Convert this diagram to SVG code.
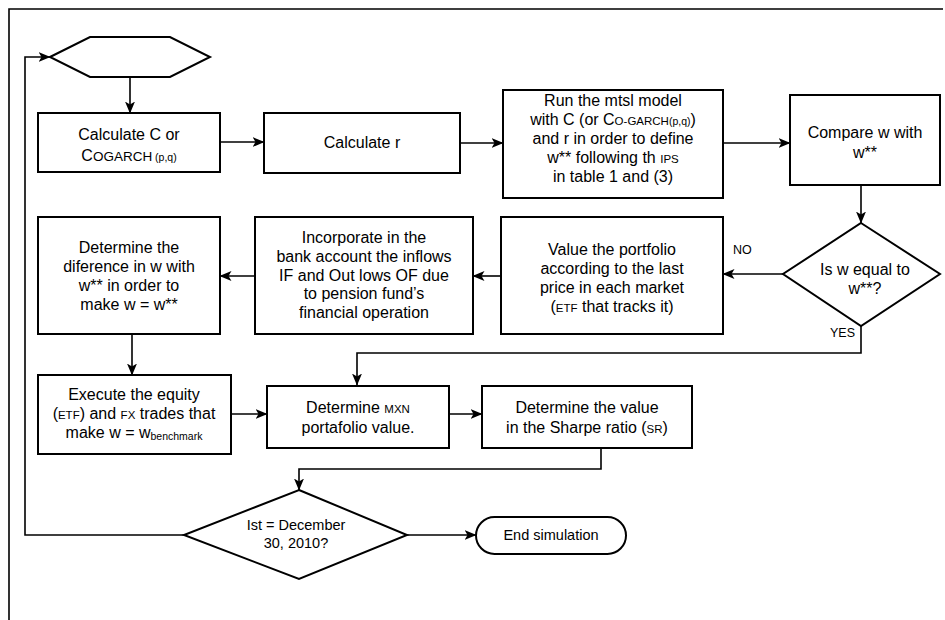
<svg xmlns="http://www.w3.org/2000/svg" width="945" height="620" viewBox="0 0 945 620">
<defs>
<marker id="ah" viewBox="0 0 12 10" refX="11.5" refY="5" markerWidth="12" markerHeight="10" markerUnits="userSpaceOnUse" orient="auto">
<path d="M0,0 L12,5 L0,10 L3,5 z" fill="#000"/>
</marker>
<style>
.box{fill:#fff;stroke:#000;stroke-width:2}
.ln{fill:none;stroke:#000;stroke-width:1.6}
.t{font-family:"Liberation Sans",Arial,sans-serif;font-size:16px;fill:#000;text-anchor:middle}
.s{font-size:14.5px}
.sc{font-size:11.5px}
.sm{font-size:10.5px}
.lb{font-family:"Liberation Sans",Arial,sans-serif;font-size:12.5px;fill:#000}
</style>
</defs>
<rect width="945" height="620" fill="#fff"/>
<path d="M943,9 H9 V620" fill="none" stroke="#000" stroke-width="1.6"/>

<g id="connectors">
<path class="ln" d="M130,77 V113" marker-end="url(#ah)"/>
<path class="ln" d="M220,142 H264" marker-end="url(#ah)"/>
<path class="ln" d="M460,143 H503" marker-end="url(#ah)"/>
<path class="ln" d="M723,143 H790" marker-end="url(#ah)"/>
<path class="ln" d="M861,185 V223" marker-end="url(#ah)"/>
<path class="ln" d="M783,274 H723" marker-end="url(#ah)"/>
<path class="ln" d="M501,276 H473" marker-end="url(#ah)"/>
<path class="ln" d="M255,276 H220" marker-end="url(#ah)"/>
<path class="ln" d="M132,334 V375" marker-end="url(#ah)"/>
<path class="ln" d="M861,326 V353 H357 V385" marker-end="url(#ah)"/>
<path class="ln" d="M231,414 H267" marker-end="url(#ah)"/>
<path class="ln" d="M449,414 H482" marker-end="url(#ah)"/>
<path class="ln" d="M601,448 V469 H299 V490" marker-end="url(#ah)"/>
<path class="ln" d="M407,535 H476" marker-end="url(#ah)"/>
<path class="ln" d="M184,535 H25 V57 H50" marker-end="url(#ah)"/>
<text class="lb" x="733" y="254">NO</text>
<text class="lb" x="830" y="337">YES</text>
</g>

<g id="start">
<polygon class="box" points="50,57 90,37 170,37 210,57 170,77 90,77"/>
</g>

<g id="calcC">
<rect class="box" x="38" y="113" width="182" height="59"/>
<text class="t" x="129" y="140">Calculate C or</text>
<text class="t" x="129" y="161">C<tspan font-size="13.5px">OGARCH</tspan><tspan class="sm"> (p,q)</tspan></text>
</g>

<g id="calcR">
<rect class="box" x="264" y="113" width="196" height="60"/>
<text class="t" x="362" y="148">Calculate r</text>
</g>

<g id="runModel">
<rect class="box" x="503" y="90" width="220" height="108"/>
<text class="t" x="613" y="106">Run the mtsl model</text>
<text class="t" x="613" y="125">with C (or C<tspan class="sc">O-GARCH</tspan><tspan class="sm">(p,q)</tspan>)</text>
<text class="t" x="613" y="144">and r in order to define</text>
<text class="t" x="613" y="163">w** following th <tspan class="sc">IPS</tspan></text>
<text class="t" x="613" y="182">in table 1 and (3)</text>
</g>

<g id="compare">
<rect class="box" x="790" y="95" width="150" height="90"/>
<text class="t" x="865" y="138">Compare w with</text>
<text class="t" x="865" y="158">w**</text>
</g>

<g id="isEqual">
<polygon class="box" points="861,223 940,274 861,326 783,274"/>
<text class="t" x="865" y="275">Is w equal to</text>
<text class="t" x="865" y="294">w**?</text>
</g>

<g id="valuePortfolio">
<rect class="box" x="501" y="217" width="222" height="117"/>
<text class="t" x="612" y="255">Value the portfolio</text>
<text class="t" x="612" y="274">according to the last</text>
<text class="t" x="612" y="293">price in each market</text>
<text class="t" x="612" y="312">(<tspan class="sc">ETF</tspan> that tracks it)</text>
</g>

<g id="incorporate">
<rect class="box" x="255" y="217" width="218" height="117"/>
<text class="t" x="364" y="243">Incorporate in the</text>
<text class="t" x="364" y="262">bank account the inflows</text>
<text class="t" x="364" y="281">IF and Out lows OF due</text>
<text class="t" x="364" y="299">to pension fund’s</text>
<text class="t" x="364" y="318">financial operation</text>
</g>

<g id="difference">
<rect class="box" x="38" y="217" width="182" height="117"/>
<text class="t" x="129" y="253">Determine the</text>
<text class="t" x="129" y="272">diference in w with</text>
<text class="t" x="129" y="291">w** in order to</text>
<text class="t" x="129" y="310">make w = w**</text>
</g>

<g id="execute">
<rect class="box" x="38" y="375" width="193" height="79"/>
<text class="t" x="134" y="400">Execute the equity</text>
<text class="t" x="134" y="419">(<tspan class="sc">ETF</tspan>) and <tspan class="sc">FX</tspan> trades that</text>
<text class="t" x="134" y="438">make w = w<tspan class="sm" dy="2">benchmark</tspan></text>
</g>

<g id="mxnValue">
<rect class="box" x="267" y="386" width="182" height="62"/>
<text class="t" x="358" y="413">Determine <tspan class="sc">MXN</tspan></text>
<text class="t" x="358" y="433">portafolio value.</text>
</g>

<g id="sharpe">
<rect class="box" x="482" y="386" width="210" height="62"/>
<text class="t" x="587" y="413">Determine the value</text>
<text class="t" x="587" y="433">in the Sharpe ratio (<tspan class="sc">SR</tspan>)</text>
</g>

<g id="isDate">
<polygon class="box" points="299,490 407,535 299,579 184,535"/>
<text class="t s" x="296" y="530">Ist = December</text>
<text class="t s" x="296" y="548">30, 2010?</text>
</g>

<g id="end">
<rect class="box" x="476" y="517" width="150" height="37" rx="18.5"/>
<text class="t s" x="551" y="540">End simulation</text>
</g>
</svg>
